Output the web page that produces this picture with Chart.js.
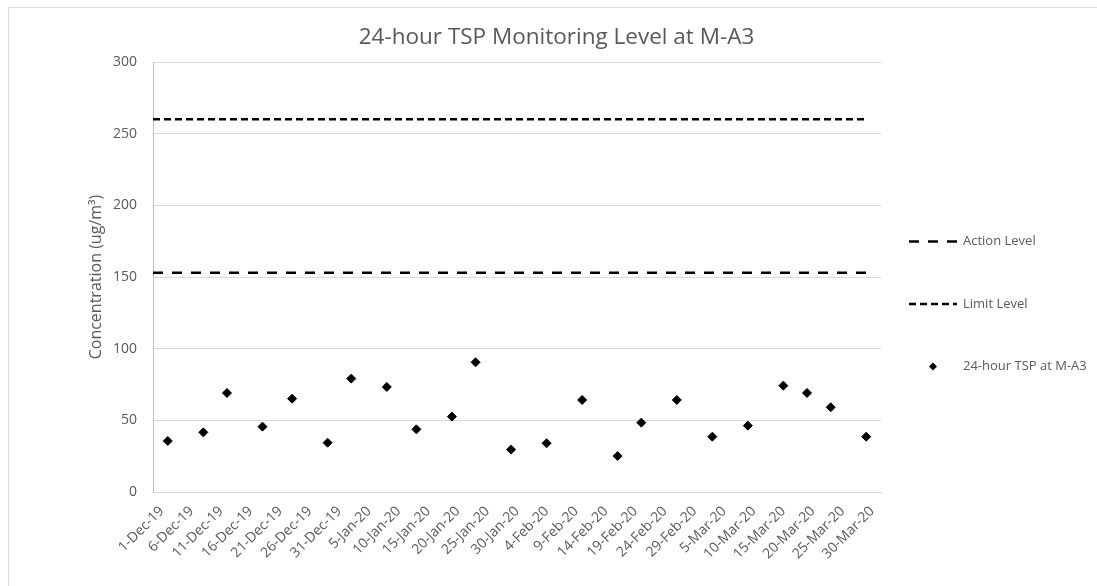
<!DOCTYPE html>
<html>
<head>
<meta charset="utf-8">
<script src="https://cdn.jsdelivr.net/npm/chart.js@4.4.1/dist/chart.umd.min.js"></script>
<style>
  html, body { margin: 0; padding: 0; background: #fff; overflow: hidden; }
  #wrap { position: relative; width: 1097px; height: 586px; overflow: hidden; }
  #frame { position: absolute; left: 8px; top: 7px; width: 1200px; height: 700px; border: 1px solid #d9d9d9; }
  #chart { position: absolute; left: 0; top: 0; }
</style>
</head>
<body>
<div id="wrap">
  <div id="frame"></div>
  <canvas id="chart" width="1097" height="586"></canvas>
</div>
<script>
const tickLabels = ['1-Dec-19', '6-Dec-19', '11-Dec-19', '16-Dec-19', '21-Dec-19', '26-Dec-19',
  '31-Dec-19', '5-Jan-20', '10-Jan-20', '15-Jan-20', '20-Jan-20', '25-Jan-20', '30-Jan-20',
  '4-Feb-20', '9-Feb-20', '14-Feb-20', '19-Feb-20', '24-Feb-20', '29-Feb-20', '5-Mar-20',
  '10-Mar-20', '15-Mar-20', '20-Mar-20', '25-Mar-20', '30-Mar-20'];

const sampleDates = ['2-Dec-19', '8-Dec-19', '12-Dec-19', '18-Dec-19', '23-Dec-19', '29-Dec-19',
  '2-Jan-20', '8-Jan-20', '13-Jan-20', '19-Jan-20', '23-Jan-20', '29-Jan-20',
  '4-Feb-20', '10-Feb-20', '16-Feb-20', '20-Feb-20', '26-Feb-20',
  '3-Mar-20', '9-Mar-20', '15-Mar-20', '19-Mar-20', '23-Mar-20', '29-Mar-20'];

const tspValues = [35.6, 41.6, 69.1, 45.6, 65.1, 34.4, 79.1, 73.3, 43.7, 52.6, 90.5, 29.6,
  34.0, 64.2, 25.1, 48.4, 64.2, 38.6, 46.3, 74.2, 69.1, 59.1, 38.6];

const actionLevel = 153;
const limitLevel = 260;

// axis covers whole days from 30-Nov-19 to 31-Mar-20
const axisFirstDay = '30-Nov-19';
const axisLastDay = '31-Mar-20';

const monthNames = ['Jan', 'Feb', 'Mar', 'Apr', 'May', 'Jun', 'Jul', 'Aug', 'Sep', 'Oct', 'Nov', 'Dec'];

function dayOffset(str) {
  const [d, m, y] = str.split('-');
  const t = Date.UTC(2000 + Number(y), monthNames.indexOf(m), Number(d));
  return Math.round((t - Date.UTC(2019, 11, 1)) / 864e5);
}

const tickDays = tickLabels.map(dayOffset);
const sampleDays = sampleDates.map(dayOffset);
const xMin = dayOffset(axisFirstDay) - 0.5;
const xMax = dayOffset(axisLastDay) + 0.5;
const lineEnd = sampleDays[sampleDays.length - 1];

const textColor = '#595959';
const fontFamily = '"Open Sans", sans-serif';

const sideLegend = {
  id: 'sideLegend',
  afterDraw(chart, args, opts) {
    const {ctx} = chart;
    const left = chart.chartArea.right + opts.gap;
    ctx.save();
    ctx.font = '13px ' + fontFamily;
    ctx.textBaseline = 'middle';
    chart.data.datasets.forEach((ds, i) => {
      const y = opts.top + i * opts.spacing;
      ctx.strokeStyle = '#000';
      ctx.fillStyle = '#000';
      if (ds.showLine) {
        ctx.lineWidth = ds.borderWidth;
        ctx.setLineDash(ds.borderDash);
        ctx.beginPath();
        ctx.moveTo(left, y);
        ctx.lineTo(left + opts.sample, y);
        ctx.stroke();
        ctx.setLineDash([]);
      } else {
        const cx = left + opts.sample / 2, r = 4;
        ctx.beginPath();
        ctx.moveTo(cx - r, y);
        ctx.lineTo(cx, y - r);
        ctx.lineTo(cx + r, y);
        ctx.lineTo(cx, y + r);
        ctx.closePath();
        ctx.fill();
      }
      ctx.fillStyle = textColor;
      ctx.fillText(ds.label, left + opts.sample + 6, y);
    });
    ctx.restore();
  }
};

new Chart(document.getElementById('chart'), {
  type: 'scatter',
  data: {
    datasets: [{
      label: 'Action Level',
      data: [{x: xMin, y: actionLevel}, {x: lineEnd, y: actionLevel}],
      showLine: true,
      borderColor: '#000',
      borderWidth: 2.5,
      borderDash: [10, 9],
      pointRadius: 0
    }, {
      label: 'Limit Level',
      data: [{x: xMin, y: limitLevel}, {x: lineEnd, y: limitLevel}],
      showLine: true,
      borderColor: '#000',
      borderWidth: 2.5,
      borderDash: [7, 4],
      pointRadius: 0
    }, {
      label: '24-hour TSP at M-A3',
      data: sampleDays.map((d, i) => ({x: d, y: tspValues[i]})),
      showLine: false,
      pointStyle: 'rectRot',
      pointRadius: 4.5,
      pointBorderWidth: 1,
      backgroundColor: '#000',
      borderColor: '#000'
    }]
  },
  options: {
    responsive: false,
    animation: false,
    layout: { padding: { left: 16, right: 0, top: 0, bottom: 0 } },
    plugins: {
      legend: { display: false },
      tooltip: { enabled: false },
      title: {
        display: true,
        text: '24-hour TSP Monitoring Level at M-A3',
        color: textColor,
        font: { family: fontFamily, size: 22.5, weight: 'normal' },
        padding: { top: 24, bottom: 11 }
      },
      sideLegend: { gap: 28, top: 241.5, spacing: 62.5, sample: 48 }
    },
    scales: {
      x: {
        type: 'linear',
        min: xMin,
        max: xMax,
        afterBuildTicks: s => { s.ticks = tickDays.map(v => ({value: v})); },
        afterFit: s => { s.height = 94; },
        grid: { display: false },
        border: { display: true, color: '#d9d9d9' },
        ticks: {
          autoSkip: false,
          minRotation: 45,
          maxRotation: 45,
          padding: 3,
          color: textColor,
          font: { family: fontFamily, size: 14 },
          callback: v => tickLabels[tickDays.indexOf(v)]
        }
      },
      y: {
        min: 0,
        max: 300,
        afterFit: s => { s.width = 137; },
        grid: { color: '#d9d9d9', drawTicks: false },
        border: { display: true, color: '#bfbfbf' },
        ticks: {
          stepSize: 50,
          padding: 16,
          color: textColor,
          font: { family: fontFamily, size: 14 }
        },
        title: {
          display: true,
          text: 'Concentration (ug/m³)',
          color: textColor,
          font: { family: fontFamily, size: 16 },
          padding: { top: 71, bottom: 0 }
        }
      },
      side: {
        type: 'linear',
        position: 'right',
        afterFit: s => { s.width = 216; },
        grid: { display: false },
        border: { display: false },
        ticks: { display: false }
      }
    }
  },
  plugins: [sideLegend]
});
</script>
</body>
</html>
